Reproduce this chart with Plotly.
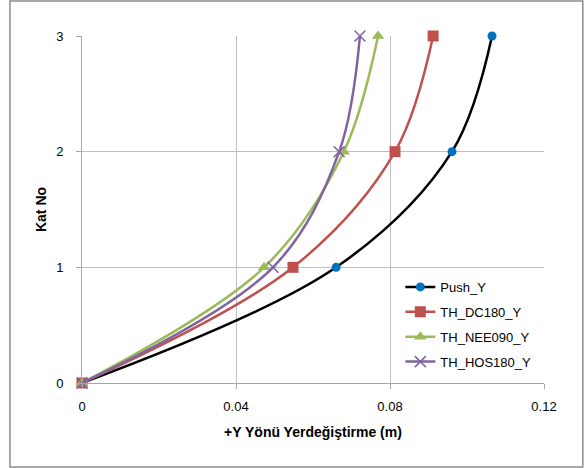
import plotly.graph_objects as go

floors = [0, 1, 2, 3]
push_y = [0, 0.066, 0.0961, 0.1065]
th_dc180_y = [0, 0.0548, 0.0813, 0.0912]
th_nee090_y = [0, 0.0473, 0.0680, 0.0769]
th_hos180_y = [0, 0.0496, 0.0668, 0.0722]

x_ticks = [0, 0.04, 0.08, 0.12]
x_tick_labels = ["0", "0.04", "0.08", "0.12"]
y_ticks = [0, 1, 2, 3]

series = [
    ("Push_Y", push_y, "#000000", dict(symbol="circle", size=9, color="#0070C0")),
    ("TH_DC180_Y", th_dc180_y, "#C0504D", dict(symbol="square", size=11, color="#C0504D")),
    ("TH_NEE090_Y", th_nee090_y, "#9BBB59", dict(symbol="triangle-up", size=11, color="#9BBB59")),
    ("TH_HOS180_Y", th_hos180_y, "#8064A2", dict(symbol="x-thin-open", size=11, color="#8064A2",
                                               line=dict(width=1.5, color="#8064A2"))),
]

fig = go.Figure()
for name, vals, lc, mk in series:
    fig.add_trace(go.Scatter(
        x=vals, y=floors, name=name, mode="lines+markers", legendgroup=name,
        line=dict(color=lc, width=2.5, shape="spline", smoothing=1.0),
        marker=mk, cliponaxis=False,
    ))

fig.update_layout(
    width=588, height=468,
    margin=dict(l=82, r=44, t=36, b=85),
    paper_bgcolor="white", plot_bgcolor="white",
    font=dict(family="Liberation Sans, Arial, sans-serif", size=13, color="#000000"),
    showlegend=True,
    legend=dict(x=0.689, y=0.32, xanchor="left", yanchor="top",
                bgcolor="rgba(0,0,0,0)", font=dict(size=13),
                tracegroupgap=5, itemwidth=30),
    xaxis=dict(range=[0, 0.12], tickvals=x_ticks, ticktext=x_tick_labels,
               showgrid=True, gridcolor="#BFBFBF", gridwidth=1,
               showline=True, linecolor="#A6A6A6", linewidth=1,
               ticks="outside", ticklen=5, tickcolor="#A6A6A6",
               ticklabelstandoff=6,
               zeroline=False,
               title=dict(text="<b>+Y Yönü Yerdeğiştirme (m)</b>", font=dict(size=14), standoff=14)),
    yaxis=dict(range=[0, 3], tickvals=y_ticks,
               showgrid=True, gridcolor="#BFBFBF", gridwidth=1,
               showline=True, linecolor="#A6A6A6", linewidth=1,
               ticks="outside", ticklen=5, tickcolor="#A6A6A6",
               ticklabelstandoff=10,
               zeroline=False,
               title=dict(text="<b>Kat No</b>", font=dict(size=14), standoff=6)),
    shapes=[dict(type="rect", xref="paper", yref="paper",
                 x0=-0.156, x1=1.084, y0=-0.242, y1=1.101,
                 line=dict(color="#8C8C8C", width=1.5), fillcolor="rgba(0,0,0,0)", layer="below")],
)

fig.write_html("out.html", config={"displayModeBar": False},
               post_script="document.body.style.margin='0';document.body.style.padding='0';")
